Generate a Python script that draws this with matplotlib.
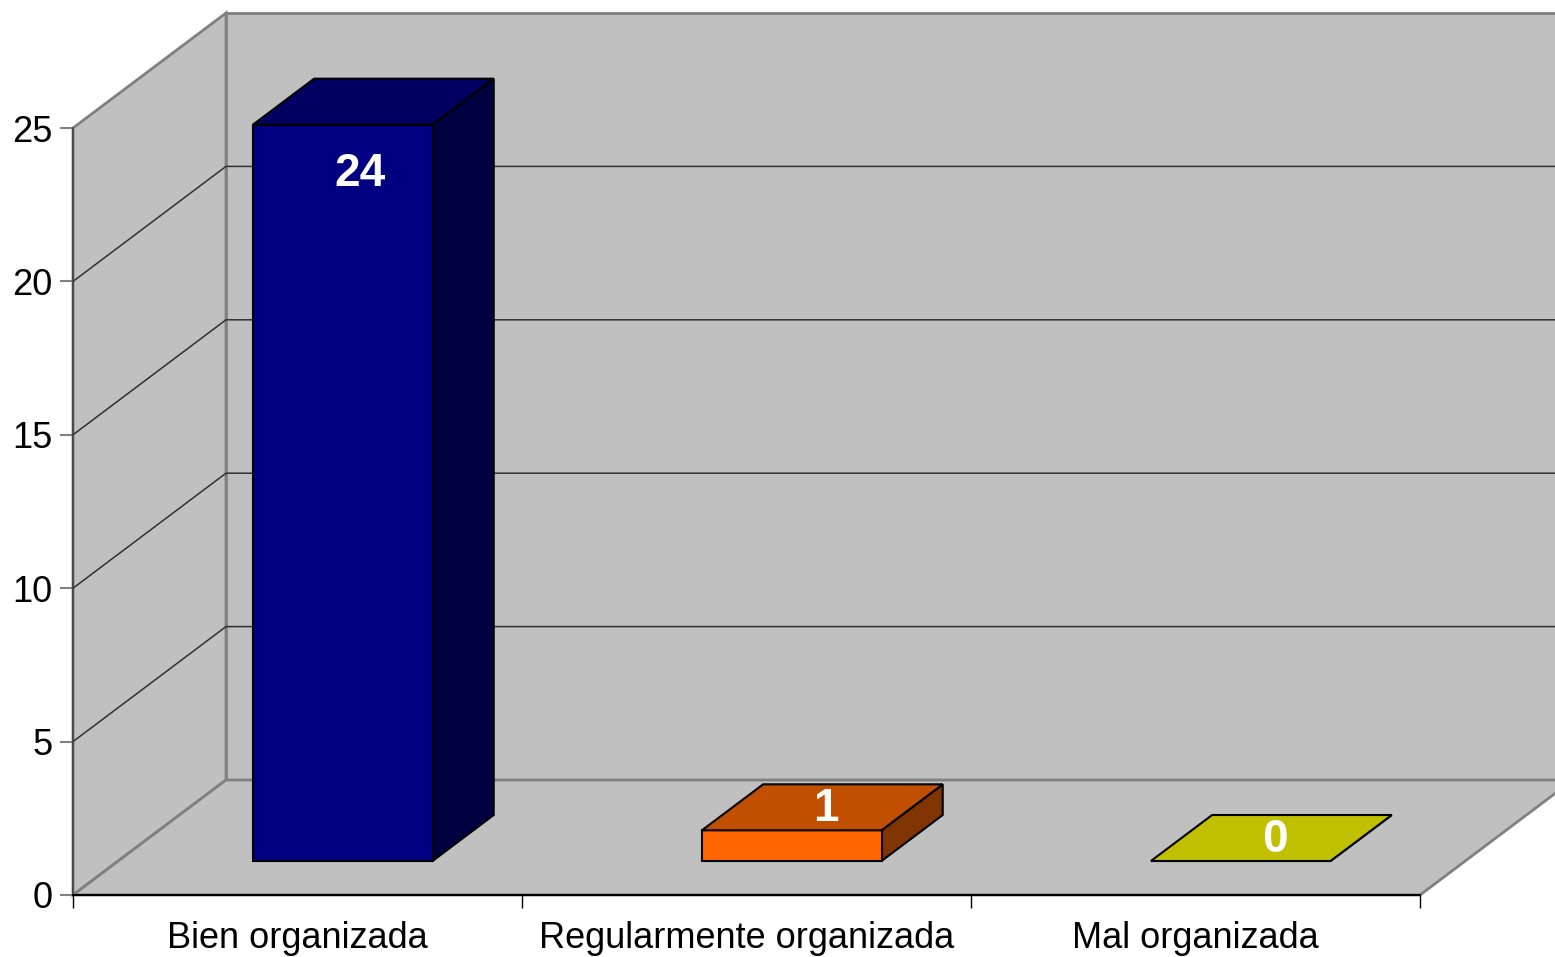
import matplotlib
matplotlib.use("Agg")
import matplotlib.pyplot as plt
from matplotlib.patches import Polygon

plt.rcParams['font.family'] = ['Liberation Sans', 'DejaVu Sans']

categories = ["Bien organizada", "Regularmente organizada", "Mal organizada"]
values = [24, 1, 0]
y_ticks = [0, 5, 10, 15, 20, 25]

front_colors = ["#000080", "#FF6600", "#C0C000"]
top_colors = ["#000060", "#C04F00", "#C0C000"]
side_colors = ["#000040", "#803500", "#909000"]

W, H = 1555, 957
fig = plt.figure(figsize=(W / 100, H / 100), dpi=100)
fig.patch.set_facecolor("white")

# front plane of the 3D box: x 73..1420 px, y 895..128 px
ax = fig.add_axes([73 / W, (H - 895) / H, 1347 / W, 767 / H])
n = len(categories)
ymax = 25
ax.set_xlim(0, n)
ax.set_ylim(0, ymax)
ax.patch.set_visible(False)

px_x = n / 1347.0
px_y = ymax / 767.0
DX = 153 * px_x      # full depth offset
DY = 115 * px_y
f0, f1 = 34 / 115.0, 80 / 115.0   # bar front / back depth fractions
bw = 0.4

wall = "#C0C0C0"
edge = "#808080"

# side wall
ax.add_patch(Polygon([(0, 0), (0, ymax), (DX, ymax + DY), (DX, DY)], closed=True,
                     facecolor=wall, edgecolor=edge, lw=2, clip_on=False, zorder=1))
# back wall
ax.add_patch(Polygon([(DX, DY), (n + DX, DY), (n + DX, ymax + DY), (DX, ymax + DY)], closed=True,
                     facecolor=wall, edgecolor=edge, lw=2, clip_on=False, zorder=1))
# floor
ax.add_patch(Polygon([(0, 0), (n, 0), (n + DX, DY), (DX, DY)], closed=True,
                     facecolor=wall, edgecolor=edge, lw=2, clip_on=False, zorder=1))

# gridlines
for v in y_ticks[1:-1]:
    ax.plot([0, DX, n + DX], [v, v + DY, v + DY], color="#303030", lw=1.1,
            clip_on=False, zorder=2)

# bars
for i, (v, fc, tc, sc) in enumerate(zip(values, front_colors, top_colors, side_colors)):
    cx = i + 0.5
    x0 = cx - bw / 2 + f0 * DX
    x1 = cx + bw / 2 + f0 * DX
    y0 = f0 * DY
    ddx = (f1 - f0) * DX
    ddy = (f1 - f0) * DY
    top = v + y0
    # side face
    ax.add_patch(Polygon([(x1, y0), (x1 + ddx, y0 + ddy), (x1 + ddx, top + ddy), (x1, top)],
                         closed=True, facecolor=sc, edgecolor="black", lw=1.5,
                         clip_on=False, zorder=3, joinstyle="miter"))
    # front face
    ax.add_patch(Polygon([(x0, y0), (x1, y0), (x1, top), (x0, top)],
                         closed=True, facecolor=fc, edgecolor="black", lw=1.5,
                         clip_on=False, zorder=3, joinstyle="miter"))
    # top face
    ax.add_patch(Polygon([(x0, top), (x1, top), (x1 + ddx, top + ddy), (x0 + ddx, top + ddy)],
                         closed=True, facecolor=tc, edgecolor="black", lw=1.5,
                         clip_on=False, zorder=4, joinstyle="miter"))
    # value label
    if v >= 5:
        lx = cx + f0 * DX + 17 * px_x
        ly = top - 49 * px_y
    else:
        lx = cx + f0 * DX + ddx / 2 + 4 * px_x
        ly = top + ddy / 2 - 2 * px_y
    ax.text(lx, ly, str(v), color="white", fontsize=33, fontweight="bold",
            ha="center", va="center", zorder=5)

# axes styling
for s in ["top", "right"]:
    ax.spines[s].set_visible(False)
ax.spines["left"].set_color("#404040")
ax.spines["left"].set_linewidth(1.2)
ax.spines["bottom"].set_color("black")
ax.spines["bottom"].set_linewidth(1.5)
ax.spines["left"].set_zorder(6)
ax.spines["bottom"].set_zorder(6)

ax.set_yticks(y_ticks)
ax.set_yticklabels([str(t) for t in y_ticks])
ax.tick_params(axis="y", length=9.5, width=1.5, color="#808080", pad=5,
               labelsize=26, labelcolor="black")

ax.set_xticks(range(n + 1))
ax.set_xticklabels([])
ax.tick_params(axis="x", which="major", length=9.5, width=1, color="black", direction="out")
ax.set_xticks([i + 0.5 for i in range(n)], minor=True)
ax.set_xticklabels(categories, minor=True)
ax.tick_params(axis="x", which="minor", length=0, pad=19, labelsize=26, labelcolor="black")

fig.savefig("out.png", dpi=100, facecolor="white")
